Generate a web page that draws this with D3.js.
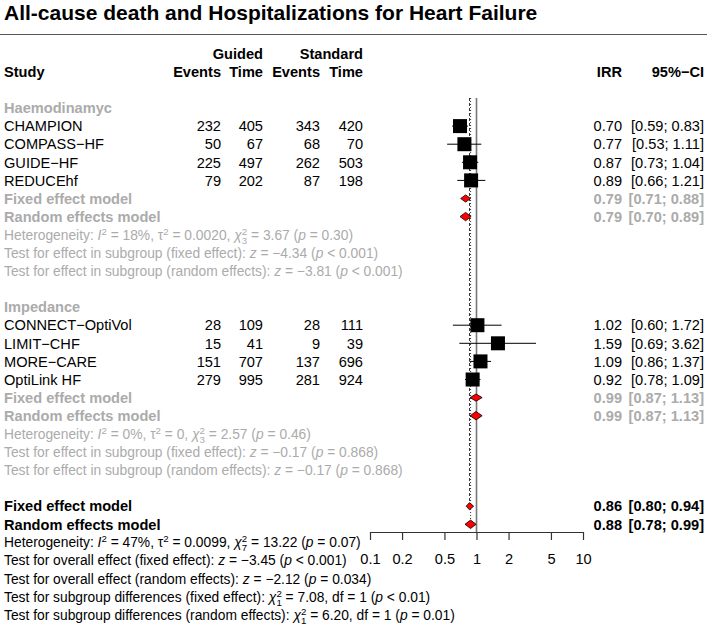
<!DOCTYPE html>
<html>
<head>
<meta charset="utf-8">
<script src="https://cdn.jsdelivr.net/npm/d3@7"></script>
<style>
  body { margin: 0; background: #fff; }
  svg text { font-family: "Liberation Sans", Arial, Helvetica, sans-serif; }
</style>
</head>
<body>
<div id="chart"></div>
<script>
// study level data
const studies = ["CHAMPION", "COMPASS−HF", "GUIDE−HF", "REDUCEhf", "CONNECT−OptiVol", "LIMIT−CHF", "MORE−CARE", "OptiLink HF"];
const studyGroup = ["Haemodinamyc", "Haemodinamyc", "Haemodinamyc", "Haemodinamyc", "Impedance", "Impedance", "Impedance", "Impedance"];
const guidedEvents = [232, 50, 225, 79, 28, 15, 151, 279];
const guidedTime = [405, 67, 497, 202, 109, 41, 707, 995];
const standardEvents = [343, 68, 262, 87, 28, 9, 137, 281];
const standardTime = [420, 70, 503, 198, 111, 39, 696, 924];
const irr = [0.70, 0.77, 0.87, 0.89, 1.02, 1.59, 1.09, 0.92];
const irrLower = [0.59, 0.53, 0.73, 0.66, 0.60, 0.69, 0.86, 0.78];
const irrUpper = [0.83, 1.11, 1.04, 1.21, 1.72, 3.62, 1.37, 1.09];

// subgroup summaries
const groups = ["Haemodinamyc", "Impedance"];
const groupFixed = [[0.79, 0.71, 0.88], [0.99, 0.87, 1.13]];
const groupRandom = [[0.79, 0.70, 0.89], [0.99, 0.87, 1.13]];
const groupStats = [
  ["Heterogeneity: {I}^2 = 18%, τ^2 = 0.0020, {χ}^2_3 = 3.67 ({p} = 0.30)",
   "Test for effect in subgroup (fixed effect): {z} = −4.34 ({p} < 0.001)",
   "Test for effect in subgroup (random effects): {z} = −3.81 ({p} < 0.001)"],
  ["Heterogeneity: {I}^2 = 0%, τ^2 = 0, {χ}^2_3 = 2.57 ({p} = 0.46)",
   "Test for effect in subgroup (fixed effect): {z} = −0.17 ({p} = 0.868)",
   "Test for effect in subgroup (random effects): {z} = −0.17 ({p} = 0.868)"]
];

// overall
const overallFixed = [0.86, 0.80, 0.94];
const overallRandom = [0.88, 0.78, 0.99];
const overallStats = [
  "Heterogeneity: {I}^2 = 47%, τ^2 = 0.0099, {χ}^2_7 = 13.22 ({p} = 0.07)",
  "Test for overall effect (fixed effect): {z} = −3.45 ({p} < 0.001)",
  "Test for overall effect (random effects): {z} = −2.12 ({p} = 0.034)",
  "Test for subgroup differences (fixed effect): {χ}^2_1 = 7.08, df = 1 ({p} < 0.01)",
  "Test for subgroup differences (random effects): {χ}^2_1 = 6.20, df = 1 ({p} = 0.01)"
];
const axisTicks = [0.1, 0.2, 0.5, 1, 2, 5, 10];

const width = 709, height = 626;
const fs = 14.6;      // table text
const fsStat = 13.8;  // heterogeneity / test lines
const grey = "#ababab";

const svg = d3.select("#chart").append("svg")
    .attr("width", width)
    .attr("height", height);

// column anchors
const col = { study: 4, gEv: 221, gTime: 263, sEv: 320, sTime: 363, irr: 622, ci: 704 };

// build row list
const rows = [];
groups.forEach((g, gi) => {
    rows.push({ type: "group", label: g });
    studies.forEach((s, i) => {
        if (studyGroup[i] === g) rows.push({ type: "study", i: i });
    });
    rows.push({ type: "summary", label: "Fixed effect model", est: groupFixed[gi], color: grey, kind: "fixed" });
    rows.push({ type: "summary", label: "Random effects model", est: groupRandom[gi], color: grey, kind: "random" });
    groupStats[gi].forEach(t => rows.push({ type: "stat", text: t, color: grey }));
    rows.push({ type: "blank" });
});
rows.push({ type: "summary", label: "Fixed effect model", est: overallFixed, color: "#000", kind: "fixed", overall: true });
rows.push({ type: "summary", label: "Random effects model", est: overallRandom, color: "#000", kind: "random", overall: true });
overallStats.forEach(t => rows.push({ type: "stat", text: t, color: "#000" }));

const y = d3.scaleLinear().domain([0, 1]).range([108, 108 + 18.1]);
const x = d3.scaleLog().domain([0.1, 10]).range([370, 583]);
const base = 5.2; // baseline offset from row centre

const fmt = d3.format(".2f");
const ciText = e => `[${fmt(e[1])}; ${fmt(e[2])}]`;

// rich text: {x} italic, ^a superscript, ^a_b stacked sup/sub
function richText(sel, str, size) {
    const re = /\{([^}]*)\}|\^(\d)(?:_(\d))?|([^{^]+)/g;
    let m, shift = 0;
    while ((m = re.exec(str)) !== null) {
        if (m[1] !== undefined) {
            sel.append("tspan").attr("font-style", "italic").attr("dy", -shift).text(m[1]);
            shift = 0;
        } else if (m[2] !== undefined) {
            const sup = sel.append("tspan").attr("font-size", size * 0.7).attr("dy", -5 - shift).text(m[2]);
            shift = -5;
            if (m[3] !== undefined) {
                const w = sup.node().getComputedTextLength();
                sel.append("tspan").attr("font-size", size * 0.7).attr("dx", -w).attr("dy", 9).text(m[3]);
                shift = 4;
            }
        } else {
            sel.append("tspan").attr("dy", -shift).text(m[4]);
            shift = 0;
        }
    }
}

// title
svg.append("text")
    .attr("x", 4).attr("y", 20)
    .attr("font-size", 21).attr("font-weight", "bold")
    .text("All-cause death and Hospitalizations for Heart Failure");
svg.append("line")
    .attr("x1", 0).attr("x2", 707).attr("y1", 34.5).attr("y2", 34.5)
    .attr("stroke", "#555").attr("stroke-width", 1.2);

// header
const header = svg.append("g").attr("font-size", fs).attr("font-weight", "bold");
header.append("text").attr("x", col.gTime).attr("y", y(-3) + base).attr("text-anchor", "end").text("Guided");
header.append("text").attr("x", col.sTime).attr("y", y(-3) + base).attr("text-anchor", "end").text("Standard");
header.append("text").attr("x", col.study).attr("y", y(-2) + base).text("Study");
[["Events", col.gEv], ["Time", col.gTime], ["Events", col.sEv], ["Time", col.sTime], ["IRR", col.irr], ["95%−CI", col.ci]]
    .forEach(([t, cx]) => header.append("text").attr("x", cx).attr("y", y(-2) + base).attr("text-anchor", "end").text(t));

// reference lines
const axisY = 532;
svg.append("line")
    .attr("x1", x(1)).attr("x2", x(1)).attr("y1", 98).attr("y2", axisY)
    .attr("stroke", "#777").attr("stroke-width", 1.6);
const fixedRow = rows.findIndex(r => r.overall && r.kind === "fixed");
const randomRow = rows.findIndex(r => r.overall && r.kind === "random");
svg.append("line")
    .attr("x1", x(overallFixed[0])).attr("x2", x(overallFixed[0]))
    .attr("y1", 98).attr("y2", y(fixedRow) - 4)
    .attr("stroke", "#000").attr("stroke-width", 0.8).attr("stroke-dasharray", "3,2");
svg.append("line")
    .attr("x1", x(overallRandom[0])).attr("x2", x(overallRandom[0]))
    .attr("y1", 98).attr("y2", y(randomRow) - 4)
    .attr("stroke", "#000").attr("stroke-width", 0.8).attr("stroke-dasharray", "1,2");

// rows
const body = svg.append("g").attr("font-size", fs);
rows.forEach((r, ri) => {
    const cy = y(ri);
    if (r.type === "group") {
        body.append("text").attr("x", col.study).attr("y", cy + base)
            .attr("font-weight", "bold").attr("fill", grey).text(r.label);
    } else if (r.type === "study") {
        const i = r.i;
        body.append("text").attr("x", col.study).attr("y", cy + base).text(studies[i]);
        [[guidedEvents[i], col.gEv], [guidedTime[i], col.gTime], [standardEvents[i], col.sEv], [standardTime[i], col.sTime]]
            .forEach(([v, cx]) => body.append("text").attr("x", cx).attr("y", cy + base).attr("text-anchor", "end").text(v));
        body.append("text").attr("x", col.irr).attr("y", cy + base).attr("text-anchor", "end").text(fmt(irr[i]));
        body.append("text").attr("x", col.ci).attr("y", cy + base).attr("text-anchor", "end").text(ciText([irr[i], irrLower[i], irrUpper[i]]));
        body.append("line")
            .attr("x1", x(irrLower[i])).attr("x2", x(irrUpper[i])).attr("y1", cy).attr("y2", cy)
            .attr("stroke", "#000").attr("stroke-width", 1);
        const s = 14;
        body.append("rect")
            .attr("x", x(irr[i]) - s / 2).attr("y", cy - s / 2)
            .attr("width", s).attr("height", s).attr("fill", "#000");
    } else if (r.type === "summary") {
        body.append("text").attr("x", col.study).attr("y", cy + base)
            .attr("font-weight", "bold").attr("fill", r.color).text(r.label);
        body.append("text").attr("x", col.irr).attr("y", cy + base).attr("text-anchor", "end")
            .attr("font-weight", "bold").attr("fill", r.color).text(fmt(r.est[0]));
        body.append("text").attr("x", col.ci).attr("y", cy + base).attr("text-anchor", "end")
            .attr("font-weight", "bold").attr("fill", r.color).text(ciText(r.est));
        const h = r.kind === "fixed" ? 3.6 : 4.2;
        const pts = [[x(r.est[1]), cy], [x(r.est[0]), cy - h], [x(r.est[2]), cy], [x(r.est[0]), cy + h]];
        body.append("polygon")
            .attr("points", pts.map(p => p.join(",")).join(" "))
            .attr("fill", "#ff0000").attr("stroke", "#000").attr("stroke-width", 0.8);
    } else if (r.type === "stat") {
        const t = body.append("text").attr("x", col.study).attr("y", cy + base - 0.3)
            .attr("font-size", fsStat).attr("fill", r.color);
        richText(t, r.text, fsStat);
    }
});

// axis
const axis = svg.append("g").attr("transform", `translate(0,${axisY})`)
    .call(d3.axisBottom(x).tickValues(axisTicks).tickFormat(d3.format("")).tickSize(8).tickSizeOuter(0));
axis.select(".domain").attr("stroke", "#333").attr("stroke-width", 1.2);
axis.selectAll(".tick line").attr("stroke", "#333").attr("stroke-width", 1.2);
axis.selectAll(".tick text")
    .attr("font-size", fs).attr("font-family", "Liberation Sans, Arial, sans-serif")
    .attr("fill", "#000").attr("y", 22);
</script>
</body>
</html>
